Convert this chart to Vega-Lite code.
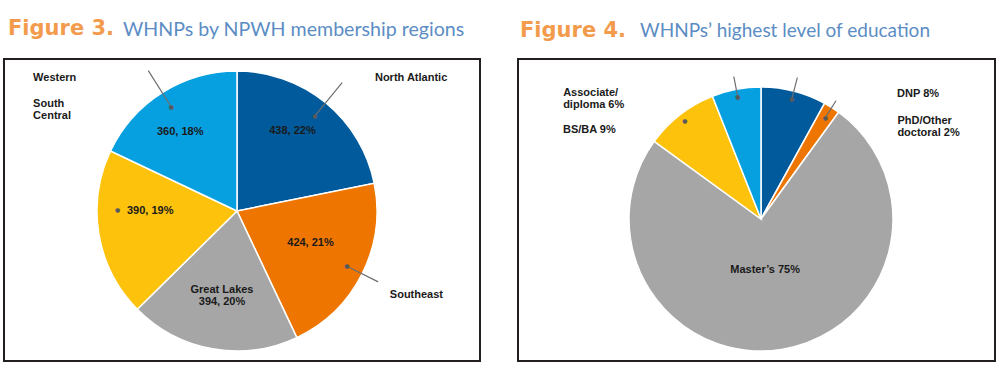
{
  "$schema": "https://vega.github.io/schema/vega-lite/v6.json",
  "background": "white",
  "padding": {"left": 3, "top": 18, "right": 3, "bottom": 6},
  "spacing": 36,
  "config": {
    "view": {"stroke": "#231f20", "strokeWidth": 2},
    "text": {"font": "Liberation Sans", "fontWeight": "bold", "fontSize": 11, "fill": "#1a1a1a", "lineBreak": "\n", "lineHeight": 12},
    "title": {"anchor": "start", "baseline": "alphabetic"}
  },
  "resolve": {"scale": {"color": "independent", "theta": "independent"}},
  "datasets": {
    "regions": [
      {"region": "North Atlantic", "n": 438, "k": 1, "lab": "North Atlantic", "inner": "438, 22%"},
      {"region": "Southeast", "n": 424, "k": 2, "lab": "Southeast", "inner": "424, 21%"},
      {"region": "Great Lakes", "n": 394, "k": 3, "lab": "Great Lakes", "inner": "Great Lakes\n394, 20%"},
      {"region": "South Central", "n": 390, "k": 4, "lab": "South\nCentral", "inner": "390, 19%"},
      {"region": "Western", "n": 360, "k": 5, "lab": "Western", "inner": "360, 18%"}
    ],
    "education": [
      {"level": "DNP", "pct": 8, "k": 1, "lab": "DNP 8%"},
      {"level": "PhD/Other doctoral", "pct": 2, "k": 2, "lab": "PhD/Other\ndoctoral 2%"},
      {"level": "Master’s", "pct": 75, "k": 3, "lab": "Master’s 75%"},
      {"level": "BS/BA", "pct": 9, "k": 4, "lab": "BS/BA 9%"},
      {"level": "Associate/diploma", "pct": 6, "k": 5, "lab": "Associate/\ndiploma 6%"}
    ]
  },
  "hconcat": [
    {
      "title": {"text": "Figure 3.", "font": "DejaVu Sans", "fontWeight": "bold", "fontSize": 21, "color": "#f39b4c", "dx": 5, "dy": 20, "offset": 0},
      "hconcat": [
        {
          "width": 476,
          "height": 302,
          "view": {"stroke": "#231f20", "strokeWidth": 2},
          "title": {"text": "WHNPs by NPWH membership regions", "font": "Lato", "fontSize": 19.6, "fontWeight": "normal", "color": "#5b8dc4", "dx": 119, "offset": 18},
          "data": {"name": "regions"},
          "encoding": {
            "theta": {"field": "n", "type": "quantitative", "stack": true},
            "order": {"field": "k", "type": "quantitative"}
          },
          "layer": [
            {
              "mark": {"type": "arc", "outerRadius": 140, "stroke": "#ffffff", "strokeWidth": 1.5, "xOffset": -5, "yOffset": 1},
              "encoding": {
                "color": {"field": "region", "type": "nominal", "legend": null,
                  "scale": {"domain": ["North Atlantic", "Southeast", "Great Lakes", "South Central", "Western"],
                            "range": ["#005a9c", "#ee7600", "#a6a6a6", "#fdc20c", "#069fe0"]}}
              }
            },
            {
              "mark": {"type": "arc", "innerRadius": 123, "padAngle": 3, "fill": "#ffffff", "fillOpacity": 0, "stroke": "#6d6e70", "strokeWidth": 1.2, "xOffset": -5, "yOffset": 1,
                       "outerRadius": {"expr": "datum.k === 2 ? 158 : 166"}},
              "encoding": {
                "strokeOpacity": {"condition": {"test": "datum.k === 1 || datum.k === 2 || datum.k === 5", "value": 1}, "value": 0}
              }
            },
            {
              "mark": {"type": "text", "font": "DejaVu Sans", "fontSize": 6, "fill": "#58595b", "xOffset": -5, "yOffset": 1,
                       "radius": {"expr": "datum.k === 4 ? 121 : 123"},
                       "dy": {"expr": "datum.k === 4 ? -21 : 0"}},
              "encoding": {"text": {"condition": {"test": "datum.k !== 3", "value": "●"}, "value": ""}}
            },
            {
              "mark": {"type": "text", "xOffset": -5, "yOffset": 1,
                       "radius": {"expr": "datum.k === 1 ? 97 : datum.k === 2 ? 80 : datum.k === 3 ? 86 : datum.k === 4 ? 88 : 97"},
                       "dx": {"expr": "datum.k === 1 ? -6 : datum.k === 2 ? 2 : datum.k === 5 ? -5 : 0"},
                       "dy": {"expr": "datum.k === 1 ? -5 : datum.k === 2 ? -4 : datum.k === 3 ? -6 : datum.k === 4 ? -15 : 3"}},
              "encoding": {"text": {"field": "inner", "type": "nominal"}}
            },
            {
              "mark": {"type": "text", "align": "left", "xOffset": -5, "yOffset": 1,
                       "radius": {"expr": "datum.k === 1 ? 172 : datum.k === 2 ? 171 : datum.k === 4 ? 150 : datum.k === 5 ? 157 : 0"},
                       "dx": {"expr": "datum.k === 1 ? 29 : datum.k === 4 ? -56 : datum.k === 5 ? -120 : 0"},
                       "dy": {"expr": "datum.k === 2 ? 7 : datum.k === 4 ? -132 : 0"}},
              "encoding": {"text": {"condition": {"test": "datum.k !== 3", "field": "lab", "type": "nominal"}, "value": ""}}
            }
          ]
        }
      ]
    },
    {
      "title": {"text": "Figure 4.", "font": "DejaVu Sans", "fontWeight": "bold", "fontSize": 21, "color": "#f39b4c", "dx": 3, "dy": 20, "offset": 0},
      "hconcat": [
        {
          "width": 477,
          "height": 302,
          "view": {"stroke": "#231f20", "strokeWidth": 2},
          "title": {"text": "WHNPs’ highest level of education", "font": "Lato", "fontSize": 19, "fontWeight": "normal", "color": "#5b8dc4", "dx": 122, "offset": 18},
          "data": {"name": "education"},
          "encoding": {
            "theta": {"field": "pct", "type": "quantitative", "stack": true},
            "order": {"field": "k", "type": "quantitative"}
          },
          "layer": [
            {
              "mark": {"type": "arc", "outerRadius": 132, "stroke": "#ffffff", "strokeWidth": 1.5, "xOffset": 4.5, "yOffset": 9},
              "encoding": {
                "color": {"field": "level", "type": "nominal", "legend": null,
                  "scale": {"domain": ["DNP", "PhD/Other doctoral", "Master’s", "BS/BA", "Associate/diploma"],
                            "range": ["#005a9c", "#ee7600", "#a6a6a6", "#fdc20c", "#069fe0"]}}
              }
            },
            {
              "mark": {"type": "arc", "innerRadius": 121, "padAngle": 3, "fill": "#ffffff", "fillOpacity": 0, "stroke": "#6d6e70", "strokeWidth": 1.2, "xOffset": 4.5, "yOffset": 9,
                       "outerRadius": {"expr": "datum.k === 1 ? 146 : datum.k === 2 ? 140 : 145"}},
              "encoding": {
                "strokeOpacity": {"condition": {"test": "datum.k === 1 || datum.k === 2 || datum.k === 5", "value": 1}, "value": 0}
              }
            },
            {
              "mark": {"type": "text", "font": "DejaVu Sans", "fontSize": 6, "fill": "#58595b", "xOffset": 4.5, "yOffset": 9,
                       "radius": {"expr": "datum.k === 2 ? 120 : 124"}},
              "encoding": {"text": {"condition": {"test": "datum.k !== 3", "value": "●"}, "value": ""}}
            },
            {
              "mark": {"type": "text", "align": {"expr": "datum.k === 3 ? 'center' : 'left'"}, "xOffset": 4.5, "yOffset": 9,
                       "radius": {"expr": "datum.k === 1 ? 129 : datum.k === 2 ? 109 : datum.k === 3 ? 52 : datum.k === 4 ? 112.6 : 122"},
                       "dx": {"expr": "datum.k === 1 ? 104 : datum.k === 2 ? 78 : datum.k === 3 ? -4 : datum.k === 4 ? -129 : -175"},
                       "dy": {"expr": "datum.k === 2 || datum.k === 5 ? -6 : 0"}},
              "encoding": {"text": {"field": "lab", "type": "nominal"}}
            }
          ]
        }
      ]
    }
  ]
}
